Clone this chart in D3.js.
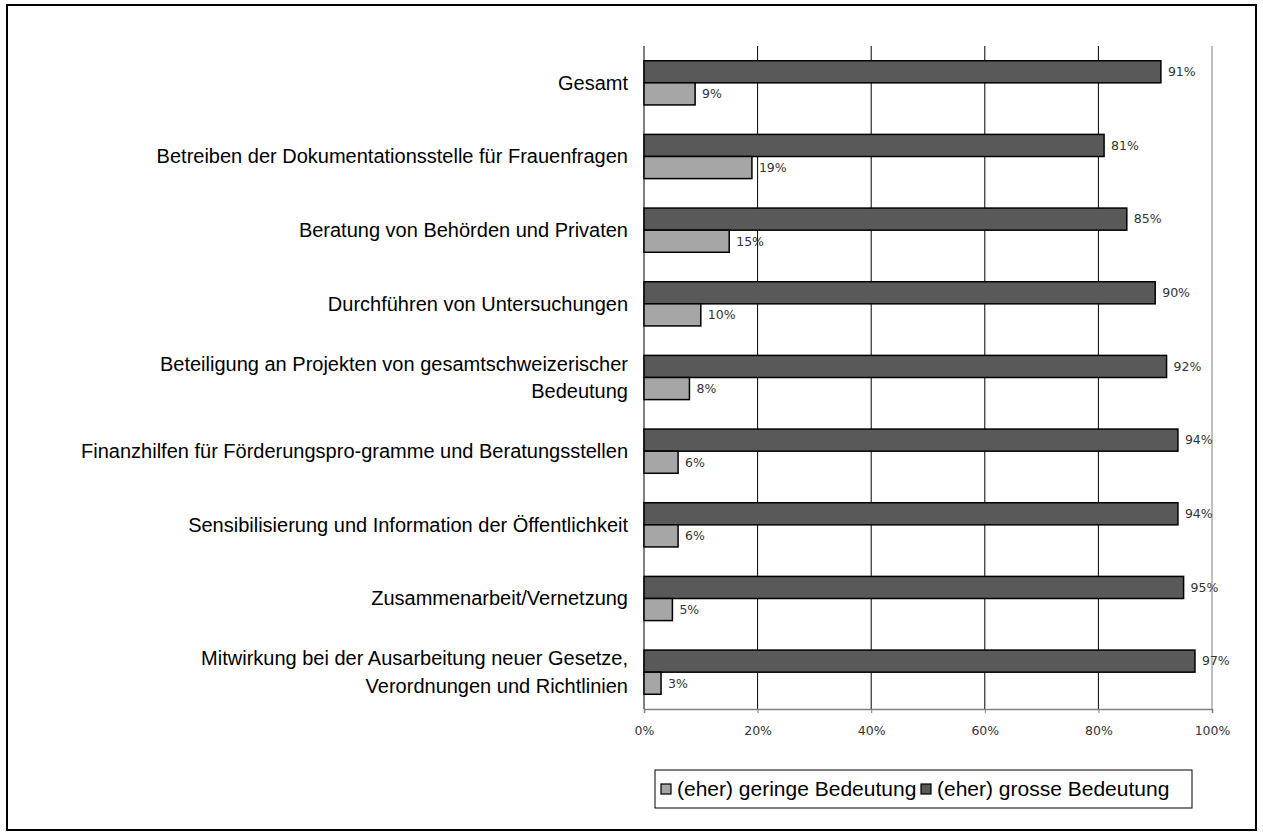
<!DOCTYPE html>
<html>
<head>
<meta charset="utf-8">
<title>Bedeutung der Aufgaben</title>
<script src="https://d3js.org/d3.v7.min.js"></script>
<style>
body { margin: 0; background: #fff; }
text { font-family: "Liberation Sans", Arial, sans-serif; }
.cat { font-size: 20px; fill: #000; }
.val { font-family: "DejaVu Sans", Verdana, sans-serif; font-size: 12.5px; fill: #333; }
.legend-text { font-size: 21px; fill: #000; }
</style>
</head>
<body>
<div id="chart"></div>
<script>
// category labels, "\n" marks a line break as in the original
var categories = [
  "Gesamt",
  "Betreiben der Dokumentationsstelle für Frauenfragen",
  "Beratung von Behörden und Privaten",
  "Durchführen von Untersuchungen",
  "Beteiligung an Projekten von gesamtschweizerischer\nBedeutung",
  "Finanzhilfen für Förderungspro-gramme und Beratungsstellen",
  "Sensibilisierung und Information der Öffentlichkeit",
  "Zusammenarbeit/Vernetzung",
  "Mitwirkung bei der Ausarbeitung neuer Gesetze,\nVerordnungen und Richtlinien"
];
var seriesNames = ["(eher) geringe Bedeutung", "(eher) grosse Bedeutung"];
var geringe = [9, 19, 15, 10, 8, 6, 6, 5, 3];
var grosse  = [91, 81, 85, 90, 92, 94, 94, 95, 97];
var ticks = [0, 20, 40, 60, 80, 100];

var W = 1263, H = 836;
var colors = { geringe: "#a6a6a6", grosse: "#595959" };

var svg = d3.select("#chart").append("svg")
    .attr("width", W)
    .attr("height", H);

// outer frame
svg.append("rect")
    .attr("x", 7).attr("y", 5)
    .attr("width", 1249).attr("height", 825)
    .attr("fill", "#fff")
    .attr("stroke", "#000")
    .attr("stroke-width", 2);

var x = d3.scaleLinear().domain([0, 100]).range([644, 1212]);
var y = d3.scaleBand().domain(categories).range([46, 709])
    .paddingInner(0.4).paddingOuter(0.2);
// dark bar on top, light bar below
var ySub = d3.scaleBand().domain(["grosse", "geringe"]).range([0, y.bandwidth()]);

// vertical gridlines
svg.append("g").selectAll("line")
    .data(ticks)
  .enter().append("line")
    .attr("x1", function(d) { return x(d); })
    .attr("x2", function(d) { return x(d); })
    .attr("y1", 46).attr("y2", 709)
    .attr("stroke", function(d) { return d === 100 ? "#808080" : "#000"; })
    .attr("stroke-width", 1);

// x axis
var xAxis = svg.append("g")
    .attr("transform", "translate(0,709)")
    .call(d3.axisBottom(x).tickValues(ticks)
        .tickFormat(function(d) { return d + "%"; })
        .tickSize(4).tickPadding(13));
xAxis.select(".domain").attr("stroke", "#808080").attr("stroke-width", 1.5);
xAxis.selectAll(".tick line").attr("stroke", "#808080");
xAxis.selectAll(".tick text")
    .style("font-family", "DejaVu Sans, Verdana, sans-serif")
    .style("font-size", "12.5px")
    .attr("fill", "#333");

var rows = categories.map(function(c, i) {
  return { cat: c, grosse: grosse[i], geringe: geringe[i] };
});

var row = svg.append("g").selectAll("g")
    .data(rows)
  .enter().append("g")
    .attr("transform", function(d) { return "translate(0," + y(d.cat) + ")"; });

["grosse", "geringe"].forEach(function(key) {
  row.append("rect")
      .attr("x", x(0))
      .attr("y", ySub(key))
      .attr("width", function(d) { return x(d[key]) - x(0); })
      .attr("height", ySub.bandwidth())
      .attr("fill", colors[key])
      .attr("stroke", "#000")
      .attr("stroke-width", 1.5);

  row.append("text")
      .attr("class", "val")
      .attr("x", function(d) { return x(d[key]) + 7; })
      .attr("y", ySub(key) + ySub.bandwidth() / 2)
      .attr("dy", "0.35em")
      .text(function(d) { return d[key] + "%"; });
});

// category labels
var lineH = 28;
row.append("text")
    .attr("class", "cat")
    .attr("text-anchor", "end")
    .each(function(d) {
      var lines = d.cat.split("\n");
      var t = d3.select(this);
      lines.forEach(function(l, i) {
        t.append("tspan")
            .attr("x", 628)
            .attr("y", y.bandwidth() / 2 + (i - (lines.length - 1) / 2) * lineH)
            .attr("dy", "0.35em")
            .text(l);
      });
    });

// legend
var legend = svg.append("g");
legend.append("rect")
    .attr("x", 655).attr("y", 770)
    .attr("width", 537).attr("height", 38)
    .attr("fill", "#fff")
    .attr("stroke", "#000")
    .attr("stroke-width", 1);

var legX = [661, 921];
var legKeys = ["geringe", "grosse"];
seriesNames.forEach(function(name, i) {
  legend.append("rect")
      .attr("x", legX[i]).attr("y", 784)
      .attr("width", 10).attr("height", 10)
      .attr("fill", colors[legKeys[i]])
      .attr("stroke", "#000")
      .attr("stroke-width", 1.2);
  legend.append("text")
      .attr("class", "legend-text")
      .attr("x", legX[i] + 16)
      .attr("y", 789)
      .attr("dy", "0.35em")
      .text(name);
});
</script>
</body>
</html>
